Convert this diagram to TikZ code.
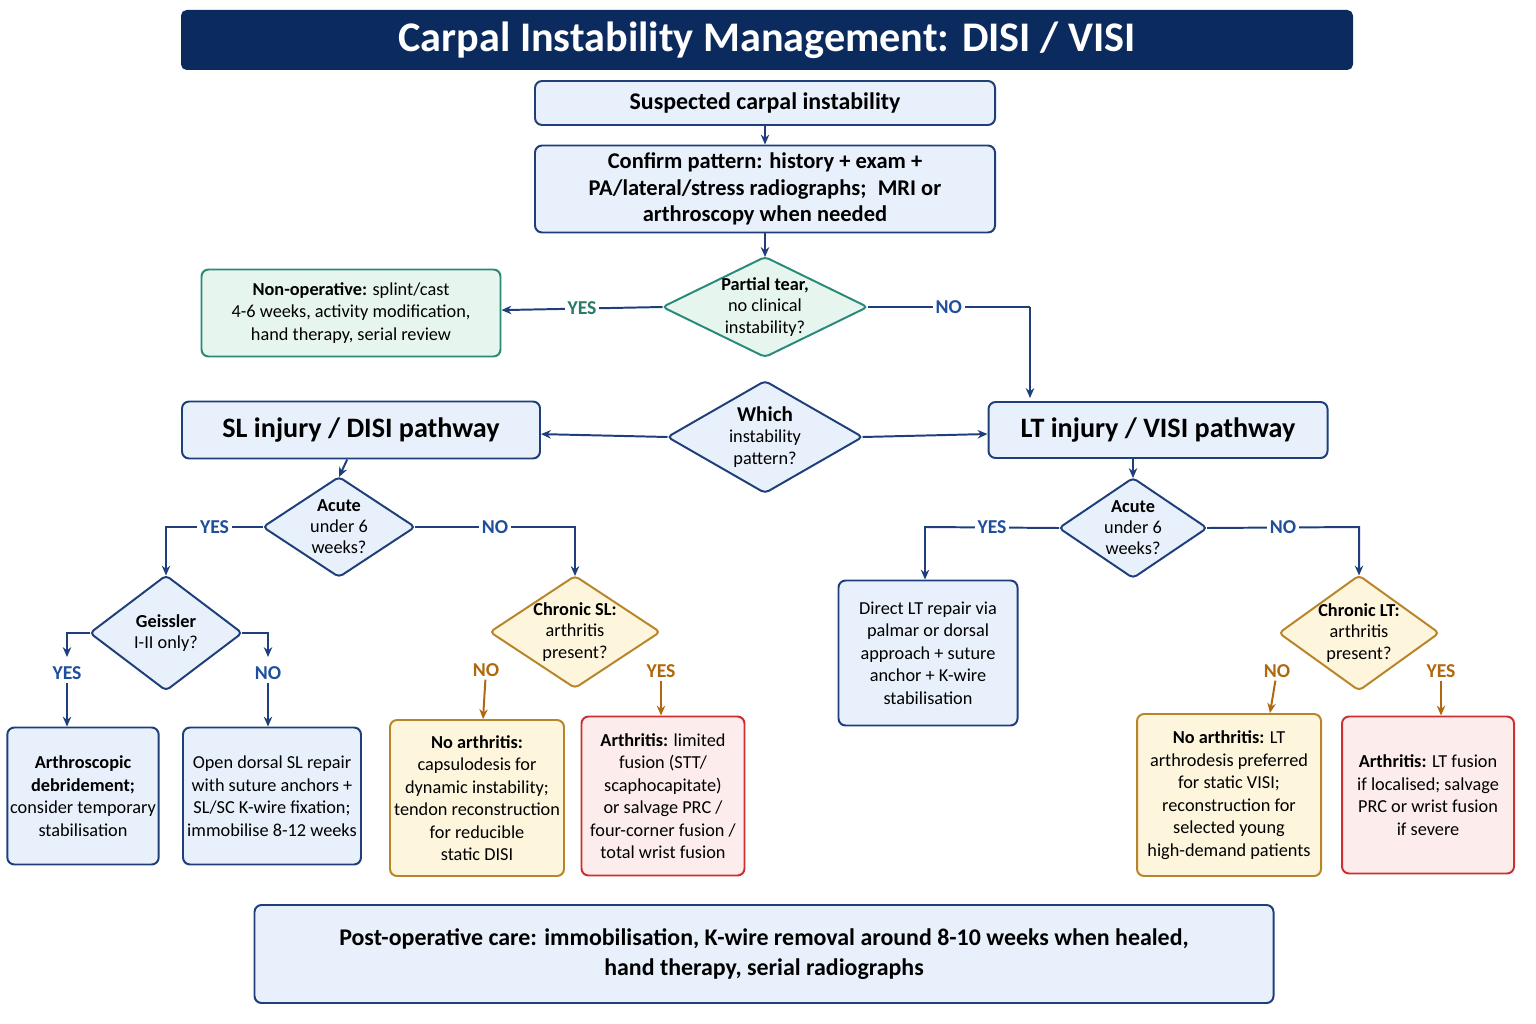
\documentclass[tikz,border=0pt]{standalone}
\usepackage{fontspec}
\setmainfont{Carlito}
\usetikzlibrary{positioning,arrows.meta}
\definecolor{navy}{HTML}{0B2A5E}
\definecolor{lineblue}{HTML}{1E3F7A}
\definecolor{bluefill}{HTML}{E8F1FB}
\definecolor{tealline}{HTML}{2A8A78}
\definecolor{tealfill}{HTML}{E7F5EF}
\definecolor{yelline}{HTML}{B8852A}
\definecolor{yelfill}{HTML}{FDF5DC}
\definecolor{redline}{HTML}{CC3030}
\definecolor{redfill}{HTML}{FDECEC}
\definecolor{lblblue}{HTML}{1F4F9A}
\definecolor{lblteal}{HTML}{2A7A68}
\definecolor{lblbrown}{HTML}{B0680E}
\tikzset{
  box/.style={draw=lineblue, fill=bluefill, line width=1.4pt, rounded corners=5pt, align=center, inner sep=2pt},
  bluebox/.style={box, font=\fontsize{13}{16}\selectfont},
  tealbox/.style={box, draw=tealline, fill=tealfill, font=\fontsize{13}{16}\selectfont},
  yelbox/.style={box, draw=yelline, fill=yelfill, font=\fontsize{13}{16}\selectfont},
  redbox/.style={box, draw=redline, fill=redfill, font=\fontsize{13}{16}\selectfont},
  dtext/.style={align=center, inner sep=0pt, font=\fontsize{13}{15}\selectfont},
  lbl/.style={fill=white, inner sep=2pt, font=\bfseries\fontsize{14}{16}\selectfont, text=lblblue},
  arr/.style={draw=lineblue, line width=1.4pt, -{Stealth[length=7pt,width=6pt]}},
  ln/.style={draw=lineblue, line width=1.4pt},
}
% diamond: name, x, y, w, h, draw colour, fill colour, text
\newcommand\dmd[8]{%
  \draw[draw=#6, fill=#7, line width=1.4pt, rounded corners=3pt]
    (#2-#4/2,#3) -- (#2,#3-#5/2) -- (#2+#4/2,#3) -- (#2,#3+#5/2) -- cycle;
  \node[dtext] (#1) at (#2,#3) {#8};
  \coordinate (#1-w) at (#2-#4/2,#3);
  \coordinate (#1-e) at (#2+#4/2,#3);
  \coordinate (#1-n) at (#2,#3-#5/2);
  \coordinate (#1-s) at (#2,#3+#5/2);
}
\begin{document}
\begin{tikzpicture}[x=0.025cm, y=-0.025cm]
\useasboundingbox[fill=white] (0,0) rectangle (1536,1024);

% title and entry
\node[fill=navy, rounded corners=4pt, minimum width=1172*0.025cm, minimum height=60*0.025cm,
  text=white, font=\bfseries\fontsize{30}{34}\selectfont] (title) at (767,40)
  {Carpal Instability Management: DISI / VISI};
\node[box, minimum width=460*0.025cm, minimum height=44*0.025cm, font=\bfseries\fontsize{17}{20}\selectfont]
  (suspect) at (765,103) {Suspected carpal instability};
\node[box, minimum width=460*0.025cm, minimum height=87*0.025cm, font=\bfseries\fontsize{16}{19}\selectfont]
  (confirm) at (765,189) {Confirm pattern: history + exam +\\PA/lateral/stress radiographs;\enspace MRI or\\arthroscopy when needed};

\dmd{partial}{765}{307}{205}{100}{tealline}{tealfill}{\bfseries Partial tear,\\no clinical\\instability?}
\node[tealbox, minimum width=299*0.025cm, minimum height=87*0.025cm] (nonop) at (351,313)
  {\textbf{Non-operative:} splint/cast\\4-6 weeks, activity modification,\\hand therapy, serial review};

\dmd{which}{765}{437}{195}{112}{lineblue}{bluefill}{\bfseries\fontsize{15}{17}\selectfont Which\\instability\\pattern?}
\node[box, minimum width=358*0.025cm, minimum height=57*0.025cm, font=\bfseries\fontsize{20}{24}\selectfont]
  (slbox) at (361,430) {SL injury / DISI pathway};
\node[box, minimum width=339*0.025cm, minimum height=56*0.025cm, font=\bfseries\fontsize{20}{24}\selectfont]
  (ltbox) at (1158,430) {LT injury / VISI pathway};

% SL side
\dmd{acutesl}{339}{527}{152}{100}{lineblue}{bluefill}{\bfseries Acute\\under 6\\weeks?}
\dmd{geissler}{166}{633}{152}{115}{lineblue}{bluefill}{\bfseries Geissler\\I-II only?}
\dmd{chronsl}{575}{632}{170}{112}{yelline}{yelfill}{\bfseries Chronic SL:\\arthritis\\present?}
\node[bluebox, minimum width=141*0.025cm, minimum height=137*0.025cm] (arthro) at (83,796)
  {\textbf{Arthroscopic}\\\textbf{debridement;}\\consider temporary\\stabilisation};
\node[bluebox, minimum width=178*0.025cm, minimum height=137*0.025cm] (opensl) at (272,796)
  {Open dorsal SL repair\\with suture anchors +\\SL/SC K-wire fixation;\\immobilise 8-12 weeks};
\node[yelbox, minimum width=174*0.025cm, minimum height=156*0.025cm] (noarthsl) at (477,798)
  {\textbf{No arthritis:}\\capsulodesis for\\dynamic instability;\\tendon reconstruction\\for reducible\\static DISI};
\node[redbox, minimum width=163*0.025cm, minimum height=159*0.025cm] (arthsl) at (663,796)
  {\textbf{Arthritis:} limited\\fusion (STT/\\scaphocapitate)\\or salvage PRC /\\four-corner fusion /\\total wrist fusion};

% LT side
\dmd{acutelt}{1133}{528}{148}{100}{lineblue}{bluefill}{\bfseries Acute\\under 6\\weeks?}
\dmd{chronlt}{1359}{633}{160}{115}{yelline}{yelfill}{\bfseries Chronic LT:\\arthritis\\present?}
\node[bluebox, minimum width=179*0.025cm, minimum height=145*0.025cm] (ltrepair) at (928,653)
  {Direct LT repair via\\palmar or dorsal\\approach + suture\\anchor + K-wire\\stabilisation};
\node[yelbox, minimum width=184*0.025cm, minimum height=162*0.025cm] (noarthlt) at (1229,795)
  {\textbf{No arthritis:} LT\\arthrodesis preferred\\for static VISI;\\reconstruction for\\selected young\\high-demand patients};
\node[redbox, minimum width=172*0.025cm, minimum height=157*0.025cm] (arthlt) at (1428,795)
  {\textbf{Arthritis:} LT fusion\\if localised; salvage\\PRC or wrist fusion\\if severe};

\node[box, minimum width=1019*0.025cm, minimum height=98*0.025cm, font=\bfseries\fontsize{17}{21}\selectfont]
  (postop) at (764,954) {Post-operative care: immobilisation, K-wire removal around 8-10 weeks when healed,\\hand therapy, serial radiographs};

% connectors
\draw[arr] (suspect) -- (confirm);
\draw[arr] (confirm) -- (partial-n);
\draw[arr, draw=lineblue] (partial-w) -- node[lbl, text=lblteal] {YES} (nonop);
\draw[ln] (partial-e) -- node[lbl] {NO} (1030,307);
\draw[arr] (1030,307) -- (1030,398);
\draw[arr] (which-w) -- (slbox);
\draw[arr] (which-e) -- (ltbox);
\draw[arr] (slbox) -- (acutesl-n);
\draw[arr] (ltbox.south -| acutelt-n) -- (acutelt-n);

\draw[arr] (acutesl-w) -- node[lbl] {YES} (166,527) -- (geissler-n);
\draw[arr] (acutesl-e) -- node[lbl] {NO} (575,527) -- (chronsl-n);
\draw[arr] (acutelt-w) -- node[lbl] {YES} (925,527) -- (ltrepair.north -| 925,0);
\draw[arr] (acutelt-e) -- node[lbl] {NO} (1359,527) -- (chronlt-n);

\draw[arr] (geissler-w) -- (67,633) -- (67,657);
\node[lbl] (gyes) at (67,673) {YES};
\draw[arr] (gyes) -- (arthro.north -| gyes);
\draw[arr] (geissler-e) -- (268,633) -- (268,657);
\node[lbl] (gno) at (268,673) {NO};
\draw[arr] (gno) -- (opensl.north -| gno);

\node[lbl, text=lblbrown] (slno) at (486,670) {NO};
\draw[arr, draw=lblbrown] (slno) -- (noarthsl.north -| 483,0);
\node[lbl, text=lblbrown] (slyes) at (661,671) {YES};
\draw[arr, draw=lblbrown] (slyes) -- (arthsl.north -| slyes);
\node[lbl, text=lblbrown] (ltno) at (1277,671) {NO};
\draw[arr, draw=lblbrown] (ltno) -- (noarthlt.north -| 1270,0);
\node[lbl, text=lblbrown] (ltyes) at (1441,671) {YES};
\draw[arr, draw=lblbrown] (ltyes) -- (arthlt.north -| ltyes);
\end{tikzpicture}
\end{document}
